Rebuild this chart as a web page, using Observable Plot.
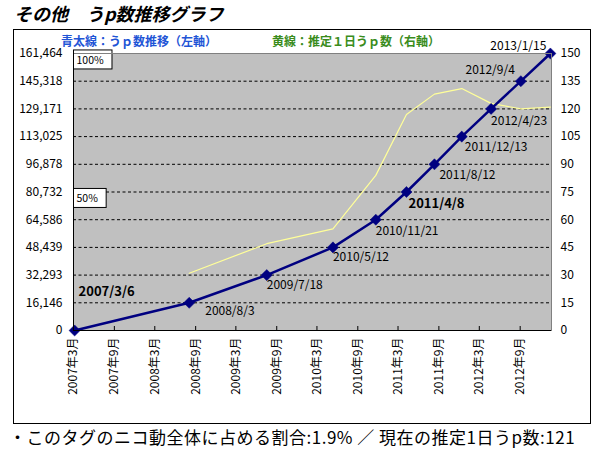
<!DOCTYPE html>
<html><head><meta charset="utf-8">
<script src="https://cdn.jsdelivr.net/npm/d3@7"></script>
<script src="https://cdn.jsdelivr.net/npm/@observablehq/plot@0.6"></script>
<style>
body{margin:0;background:#fff;font-family:"Noto Sans CJK JP",sans-serif;}
#page{position:relative;width:600px;height:453px;overflow:hidden;background:#fff}
#title{position:absolute;left:14px;top:1px;font-size:18px;font-weight:bold;font-style:italic;line-height:24px;white-space:nowrap}
#box{position:absolute;left:13px;top:29px;width:576px;height:393px;border:1px solid #000;}
#box svg{position:absolute;left:0;top:0}
.leg{position:absolute;top:32px;font-size:12px;font-weight:bold;line-height:18px;white-space:nowrap}
#caption{position:absolute;left:9px;top:426px;font-size:17px;line-height:22px;white-space:nowrap;letter-spacing:0.5px}
</style></head>
<body>
<div id="page">
  <div id="title">その他　うp数推移グラフ</div>
  <div id="box"></div>
  <div class="leg" style="left:61px;color:#1f55d6">青太線：うｐ数推移（左軸）</div>
  <div class="leg" style="left:272px;color:#3a8c1c">黄線：推定１日うｐ数（右軸）</div>
  <div id="caption">・このタグのニコ動全体に占める割合:1.9% ／ 現在の推定1日うp数:121</div>
</div>
<script>
// ---- data ----
const dates  = ["2007-03-06","2008-08-03","2009-07-18","2010-05-12","2010-11-21","2011-04-08","2011-08-12","2011-12-13","2012-04-23","2012-09-04","2013-01-15"];
const dateLabels = ["2007/3/6","2008/8/3","2009/7/18","2010/5/12","2010/11/21","2011/4/8","2011/8/12","2011/12/13","2012/4/23","2012/9/4","2013/1/15"];
const totals = [0,16146,32293,48439,64586,80732,96878,113025,129171,145318,161464];
const daily  = [null,31,47,55,84,117,128,131,123,120,121];
const leftTicks  = [0,16146,32293,48439,64586,80732,96878,113025,129171,145318,161464];
const rightTicks = [0,15,30,45,60,75,90,105,120,135,150];
const xTickDates = ["2007-03-01","2007-09-01","2008-03-01","2008-09-01","2009-03-01","2009-09-01","2010-03-01","2010-09-01","2011-03-01","2011-09-01","2012-03-01","2012-09-01"];
const pctLabels = ["100%","50%"];
const pctValues = [161464,80732];
const xDomain = ["2007-03-01","2013-01-20"];

// ---- build ----
const yMax = leftTicks[leftTicks.length-1];
const rMax = rightTicks[rightTicks.length-1];
const k = yMax / rMax;
const rows = dates.map((d,i)=>({date:new Date(d), label:dateLabels[i], total:totals[i], daily:daily[i]}));
// label placement (style only)
const place = [[4,-39,"start",true],[16,8,"start",false],[0,10,"start",false],[0,10,"start",false],[0,11,"start",false],[2,12,"start",true],[5,11,"start",false],[3,11,"start",false],[0,12,"start",false],[-6,-11,"end",false],[-4,-7,"end",false]];
const labRows = rows.map((r,i)=>({...r, dx:place[i][0], dy:place[i][1], anchor:place[i][2], bold:place[i][3]}));
const x0 = new Date(xDomain[0]);
const font = "'Noto Sans CJK JP', sans-serif";

const textMarks = labRows.map(r =>
  Plot.text([r], {x:"date", y:"total", text:"label", dx:r.dx, dy:r.dy, textAnchor:r.anchor, fontWeight: r.bold?"bold":"normal", fontSize: r.bold?13:12, fill:"#000"}));

const chart = Plot.plot({
  width:576, height:393,
  marginLeft:59, marginRight:39, marginTop:23, marginBottom:93,
  style:{fontFamily:font, fontSize:"12px", background:"transparent", color:"#000", overflow:"visible"},
  x:{type:"utc", domain:[new Date(xDomain[0]), new Date(xDomain[1])]},
  y:{domain:[0,yMax]},
  marks:[
    Plot.frame({fill:"#c0c0c0", stroke:null}),
    Plot.ruleY(leftTicks.filter(v=>v>0 && v<yMax), {stroke:"#000", strokeDasharray:"3,2.5", strokeWidth:1}),
    Plot.line(rows.filter(r=>r.daily!=null), {x:"date", y:r=>r.daily*k, stroke:"#ffff99", strokeWidth:1.2}),
    Plot.line(rows, {x:"date", y:"total", stroke:"#000080", strokeWidth:2.5}),
    Plot.dot(rows, {x:"date", y:"total", symbol:"diamond2", r:5, fill:"#000080", stroke:"#000080", strokeWidth:0.5}),
    ...textMarks,
    Plot.text(pctLabels.map((t,i)=>({t, v:pctValues[i]})), {x:()=>x0, y:"v", text:"t", textAnchor:"start", lineAnchor:"top", dx:3, dy:3, fontSize:10.5, fill:"#000"}),
    Plot.frame({stroke:"#808080"}),
    Plot.ruleY([0], {stroke:"#000"}),
    Plot.ruleX([x0], {stroke:"#000"}),
    Plot.axisY({anchor:"left", ticks:leftTicks, tickFormat:d3.format(","), tickSize:0, tickPadding:11, label:null, fontSize:12}),
    Plot.axisY({anchor:"right", ticks:rightTicks.map(v=>v*k), tickFormat:d=>String(Math.round(d/k)), tickSize:0, tickPadding:9, label:null, fontSize:12}),
    Plot.axisX({anchor:"bottom", ticks:xTickDates.map(d=>new Date(d)), tickFormat:d=>`${d.getUTCFullYear()}年${d.getUTCMonth()+1}月`, tickRotate:-90, tickSize:0, tickPadding:7, label:null, fontSize:12}),
    Plot.axisX({anchor:"bottom", ticks:xTickDates.map(d=>new Date(d)), tickFormat:()=>"", tickSize:-4, label:null, stroke:"#000"})
  ]
});
document.getElementById("box").appendChild(chart);

// white boxes behind percentage labels, anchored at the left axis
const svg = chart.tagName.toLowerCase()==="svg" ? chart : chart.querySelector("svg");
svg.querySelectorAll("text").forEach(t=>{
  if (pctLabels.includes(t.textContent)) {
    const b = t.getBBox();
    const rect = document.createElementNS("http://www.w3.org/2000/svg","rect");
    rect.setAttribute("x", b.x-3);
    rect.setAttribute("y", b.y-2);
    rect.setAttribute("width", b.width+11);
    rect.setAttribute("height", b.height+4);
    rect.setAttribute("fill","#fff");
    rect.setAttribute("stroke","#000");
    rect.setAttribute("stroke-width","1");
    const tr = t.getAttribute("transform");
    if (tr) rect.setAttribute("transform", tr);
    t.parentNode.insertBefore(rect, t);
  }
});
</script>
</body></html>
